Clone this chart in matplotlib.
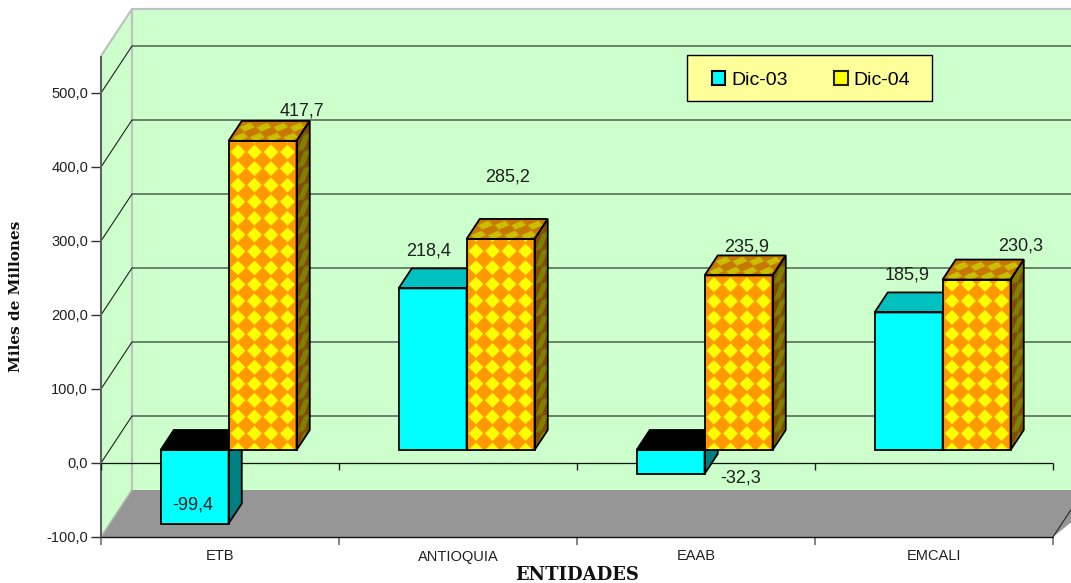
import numpy as np
import matplotlib
matplotlib.use("Agg")
import matplotlib.pyplot as plt
from matplotlib.patches import Polygon, Patch, Rectangle
from matplotlib.transforms import Affine2D

categories = ["ETB", "ANTIOQUIA", "EAAB", "EMCALI"]
dic03 = [-99.4, 218.4, -32.3, 185.9]
dic04 = [417.7, 285.2, 235.9, 230.3]
yticks = [-100, 0, 100, 200, 300, 400, 500]
series_names = ["Dic-03", "Dic-04"]

W, H = 1071, 583
L, R, B, T = 101, 1053, 537, 93
PX_X = (R - L) / 4.0
PX_Y = (B - T) / 600.0
DX, DY = 31 / PX_X, 47 / PX_Y          # full depth of the 3D box, data units
F_FRONT, F_BACK = 13 / 47, 33 / 47     # bar depth range
BAR_W = 68 / PX_X

plt.rcParams['font.family'] = ['Liberation Sans', 'DejaVu Sans']
fig = plt.figure(figsize=(W / 100, H / 100), dpi=100, facecolor='white')
ax = fig.add_axes([L / W, 1 - B / H, (R - L) / W, (B - T) / H])
ax.set_xlim(0, 4)
ax.set_ylim(-100, 500)
ax.set_autoscale_on(False)
ax.patch.set_visible(False)
for s in ['top', 'right', 'bottom', 'left']:
    ax.spines[s].set_visible(False)

x_right = (W + 40 - L) / PX_X
y_top = (B - 56) / PX_Y - 100


def poly(pts, fc, ec='none', lw=0, z=1):
    p = Polygon(pts, closed=True, facecolor=fc, edgecolor=ec, linewidth=lw,
                zorder=z, clip_on=False, joinstyle='miter')
    ax.add_patch(p)
    return p


def line(xs, ys, color, lw=1.0, z=2):
    ax.plot(xs, ys, color=color, lw=lw, zorder=z, clip_on=False, solid_capstyle='butt')


# walls and floor
poly([(DX, -100 + DY), (x_right, -100 + DY), (x_right, y_top + DY), (DX, y_top + DY)], '#CCFFCC')
poly([(0, -100), (DX, -100 + DY), (DX, y_top + DY), (0, y_top)], '#CCFFCC')
poly([(0, -100), (DX, -100 + DY), (x_right, -100 + DY), (4, -100)], '#969696')
line([0, DX, x_right], [y_top, y_top + DY, y_top + DY], '#C0C0C0', 1.6)
line([DX, DX], [-100 + DY, y_top + DY], '#C0C0C0', 1.6)
line([0, DX], [-100, -100 + DY], '#B0B0B0', 1.2)

# gridlines
for v in yticks[1:]:
    line([0, DX, x_right], [v, v + DY, v + DY], '#202020', 0.8)
line([4, 4 + DX], [-100, -100 + DY], '#303030', 0.9)

# front axes
line([0, 0], [-100, y_top], '#606060', 1.5, 3)
line([0, 4], [0, 0], '#101010', 0.9, 3)
line([0, 4], [-100, -100], '#101010', 1.0, 3)
for i in range(5):
    line([i, i], [0, -9.5], '#202020', 1.0, 3)

ax.set_yticks(yticks)
ax.set_yticklabels([f"{v:.1f}".replace('.', ',') for v in yticks], fontsize=10.5, color='#202020')
ax.tick_params(axis='y', length=7.2, width=1.0, color='#303030', pad=2)
ax.set_xticks(range(5))
ax.set_xticklabels([])
ax.tick_params(axis='x', length=6, width=1.2, color='#707070')
ax.set_xticks(np.arange(4) + 0.5, minor=True)
ax.set_xticklabels(categories, minor=True, fontsize=10.5, color='#202020')
ax.tick_params(axis='x', which='minor', length=0, pad=9)


def texture(w, h, pu, pv, c_bg, c_fg, u0=0.0, v0=0.0, size=0.9, ss=3):
    """Rotated-checker texture, in pixels of the face."""
    nu, nv = int(round(w * ss)), int(round(h * ss))
    u = (np.arange(nu) + 0.5) / ss - u0
    v = (np.arange(nv) + 0.5) / ss - v0
    uu, vv = np.meshgrid(u, v)
    du = np.abs((uu + pu / 2) % pu - pu / 2) / (pu / 2)
    dv = np.abs((vv + pv / 2) % pv - pv / 2) / (pv / 2)
    mask = du + dv < size
    img = np.zeros((nv, nu, 3), dtype=float)
    img[:] = np.array(c_bg) / 255.0
    img[mask] = np.array(c_fg) / 255.0
    return img


def textured(corners, tex, z):
    o, a, _, b = [np.array(c, dtype=float) for c in corners]
    eu, ev = a - o, b - o
    m = np.array([[eu[0], ev[0], o[0]], [eu[1], ev[1], o[1]], [0, 0, 1]])
    tr = Affine2D(m) + ax.transData
    im = ax.imshow(tex, extent=(0, 1, 0, 1), origin='lower', aspect='auto',
                   interpolation='bilinear', transform=tr, zorder=z)
    im.set_clip_on(True)
    im.set_clip_box(fig.bbox)
    im.set_clip_path(Polygon(corners, closed=True, transform=ax.transData))
    return im


def bar3d(x0, val, kind, z):
    base = 0.0
    lo, hi = min(base, val), max(base, val)
    fx, fy = DX * F_FRONT, DY * F_FRONT
    bx, by = DX * (F_BACK - F_FRONT), DY * (F_BACK - F_FRONT)
    x = x0 + fx
    front = [(x, lo + fy), (x + BAR_W, lo + fy), (x + BAR_W, hi + fy), (x, hi + fy)]
    side = [(x + BAR_W, lo + fy), (x + BAR_W + bx, lo + fy + by), (x + BAR_W + bx, hi + fy + by), (x + BAR_W, hi + fy)]
    top = [(x, hi + fy), (x + BAR_W, hi + fy), (x + BAR_W + bx, hi + fy + by), (x + bx, hi + fy + by)]
    if kind == 0:
        poly(front, '#00FFFF', z=z)
        poly(side, '#008080', z=z)
        poly(top, '#000000' if val < 0 else '#00C0C0', z=z)
    else:
        w_px = BAR_W * PX_X
        h_px = (hi - lo) * PX_Y
        textured(front, texture(w_px, h_px, 16.5, 16.5, (255, 153, 0), (255, 255, 0), 9, 0), z)
        textured(side, texture(13, h_px, 13, 16.5, (128, 77, 0), (128, 128, 0), 6.5, 0), z)
        textured(top, texture(w_px, 21, 16.5, 10.5, (200, 120, 0), (200, 192, 0), 9, 4), z)
    for pts in (front, side, top):
        poly(pts, 'none', ec='black', lw=1.3, z=z + 0.5)


for i in range(4):
    gap = (1 - 2 * BAR_W) / 2
    bar3d(i + gap, dic03[i], 0, 10 + i * 2)
    bar3d(i + gap + BAR_W, dic04[i], 1, 11 + i * 2)

# data labels, hand-placed in the reference (pixels)
lab_px_03 = [(193, 505), (429, 251), (741, 478), (907, 275)]
lab_px_04 = [(302, 111), (508, 177), (747, 247), (1021, 246)]
for vals, pos in ((dic03, lab_px_03), (dic04, lab_px_04)):
    for v, (px, py) in zip(vals, pos):
        fig.text(px / W, 1 - py / H, f"{v:.1f}".replace('.', ','), ha='center', va='center',
                 fontsize=13, color='#202020', zorder=50)

# axis titles
fig.text(577 / W, 1 - 575 / H, "ENTIDADES", family='DejaVu Serif', weight='bold',
         fontsize=13, ha='center', va='center', color='#101010')
fig.text(16 / W, 1 - 296 / H, "Miles de Millones", family='DejaVu Serif', weight='bold',
         fontsize=11, rotation=90, ha='center', va='center', color='#101010')

# legend
fig.add_artist(Rectangle((687 / W, 1 - 101 / H), 245 / W, 46 / H, transform=fig.transFigure,
                         facecolor='#FFFF99', edgecolor='black', linewidth=1.0, zorder=55))
handles = [Patch(facecolor='#00FFFF', edgecolor='black', linewidth=1.5),
           Patch(facecolor='#FFFF00', edgecolor='#202020', linewidth=1.5)]
leg = fig.legend(handles, series_names, loc='center', bbox_to_anchor=(811 / W, 1 - 80 / H),
                 ncol=2, fontsize=14, frameon=False, handlelength=0.7, handleheight=0.7,
                 handletextpad=0.3, columnspacing=2.4, borderpad=0, borderaxespad=0)
leg.set_zorder(60)

fig.savefig("out.png", dpi=100, facecolor='white')
